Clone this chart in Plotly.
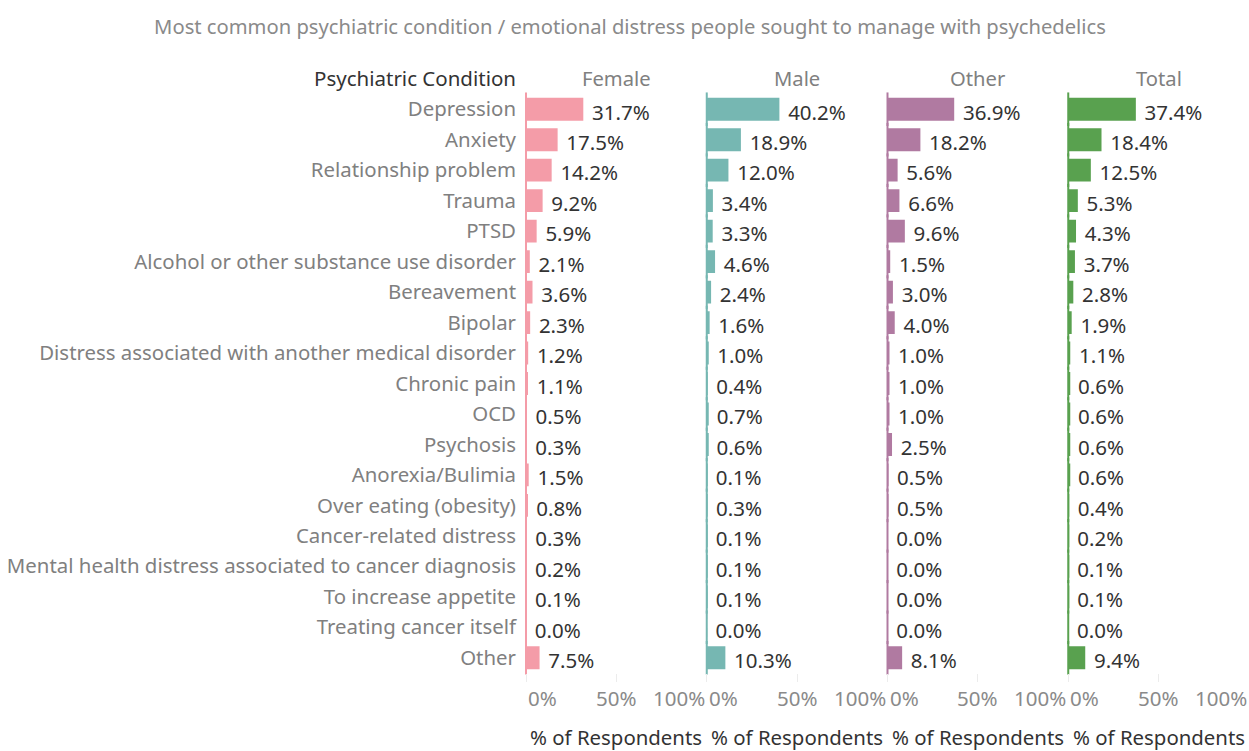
import plotly.graph_objects as go

title = "Most common psychiatric condition / emotional distress people sought to manage with psychedelics"

conditions = [
    "Depression", "Anxiety", "Relationship problem", "Trauma", "PTSD",
    "Alcohol or other substance use disorder", "Bereavement", "Bipolar",
    "Distress associated with another medical disorder", "Chronic pain", "OCD",
    "Psychosis", "Anorexia/Bulimia", "Over eating (obesity)", "Cancer-related distress",
    "Mental health distress associated to cancer diagnosis", "To increase appetite",
    "Treating cancer itself", "Other",
]

groups = ["Female", "Male", "Other", "Total"]

female = [31.7, 17.5, 14.2, 9.2, 5.9, 2.1, 3.6, 2.3, 1.2, 1.1, 0.5, 0.3, 1.5, 0.8, 0.3, 0.2, 0.1, 0.0, 7.5]
male = [40.2, 18.9, 12.0, 3.4, 3.3, 4.6, 2.4, 1.6, 1.0, 0.4, 0.7, 0.6, 0.1, 0.3, 0.1, 0.1, 0.1, 0.0, 10.3]
other = [36.9, 18.2, 5.6, 6.6, 9.6, 1.5, 3.0, 4.0, 1.0, 1.0, 1.0, 2.5, 0.5, 0.5, 0.0, 0.0, 0.0, 0.0, 8.1]
total = [37.4, 18.4, 12.5, 5.3, 4.3, 3.7, 2.8, 1.9, 1.1, 0.6, 0.6, 0.6, 0.6, 0.4, 0.2, 0.1, 0.1, 0.0, 9.4]

tick_values = [0, 50, 100]
tick_labels = ["0%", "50%", "100%"]
axis_title = "% of Respondents"
row_header = "Psychiatric Condition"

series = [female, male, other, total]
colors = ["#F49CA8", "#76B7B2", "#B07AA1", "#59A14F"]

FONT = "Noto Sans"
W, H = 1249, 751
left, right, top, bottom = 526, 0, 94, 78
panel_w = 1.0 / len(groups)
n = len(conditions)
# value labels sit a little below the bar centre line
label_drop = 0.17

fig = go.Figure()

for i, (name, vals, col) in enumerate(zip(groups, series, colors)):
    xa = "x" if i == 0 else f"x{i + 1}"
    fig.add_trace(go.Bar(
        x=vals, y=conditions, orientation="h", xaxis=xa, yaxis="y",
        marker=dict(color=col, line=dict(width=0)), width=0.75,
        hoverinfo="skip", showlegend=False,
    ))
    # thin sliver at the baseline so tiny values remain visible
    fig.add_trace(go.Scatter(
        x=[0] * len(vals), y=conditions, xaxis=xa, yaxis="y", mode="markers",
        marker=dict(symbol="line-ns", size=24, line=dict(width=2, color=col)),
        hoverinfo="skip", showlegend=False, cliponaxis=False,
    ))
    fig.add_trace(go.Scatter(
        x=vals, y=conditions, xaxis=xa, yaxis="y2", mode="text",
        text=[f" \u2009{v:.1f}%" for v in vals], textposition="middle right",
        textfont=dict(family=FONT, size=20.5, color="#333333"),
        hoverinfo="skip", showlegend=False, cliponaxis=False,
    ))

    axis_key = "xaxis" if i == 0 else f"xaxis{i + 1}"
    fig.layout[axis_key] = dict(
        domain=[i * panel_w, (i + 1) * panel_w], range=[0, 100], anchor="y",
        showgrid=False, zeroline=False, showline=False,
        tickvals=tick_values, ticks="outside", ticklen=8, tickcolor="#ececec",
        showticklabels=False, fixedrange=True,
    )

    # tick labels: first left-aligned, middle centered, last right-aligned
    for tv, tl, anchor in zip(tick_values, tick_labels, ["left", "center", "right"]):
        fig.add_annotation(
            x=tv, xref=xa, y=0, yref="paper", yshift=-25, showarrow=False,
            text=tl, xanchor=anchor, yanchor="middle",
            font=dict(family=FONT, size=20.5, color="#8a8a8a"),
        )
    fig.add_annotation(
        x=50, xref=xa, y=0, yref="paper", yshift=-64, showarrow=False,
        text=axis_title, xanchor="center", yanchor="middle",
        font=dict(family=FONT, size=20.4, color="#333333"),
    )
    fig.add_annotation(
        x=50, xref=xa, y=1, yref="paper", yshift=16, showarrow=False,
        text=name, xanchor="center", yanchor="middle",
        font=dict(family=FONT, size=20.2, color="#808080"),
    )
    # dashed baseline
    fig.add_shape(
        type="line", xref=xa, yref="paper", x0=0, x1=0, y0=0, y1=1,
        line=dict(color="#d0d0d0", width=1, dash="dash"), layer="below",
    )

fig.add_annotation(
    x=0, xref="paper", xshift=-8, y=1, yref="paper", yshift=16, showarrow=False,
    text=row_header, xanchor="right", yanchor="middle",
    font=dict(family=FONT, size=20.5, color="#333333"),
)

fig.update_layout(
    width=W, height=H,
    margin=dict(l=left, r=right, t=top, b=bottom, pad=0),
    paper_bgcolor="white", plot_bgcolor="white",
    bargap=0.25,
    title=dict(
        text=title, x=630 / W, xref="container", xanchor="center",
        y=1 - 27 / H, yref="container", yanchor="middle",
        font=dict(family=FONT, size=20.2, color="#8a8a8a"),
    ),
    yaxis=dict(
        autorange=False, range=[n - 0.5, -0.5],
        showgrid=False, zeroline=False, showline=False,
        ticks="", ticklabelstandoff=9, fixedrange=True,
        tickfont=dict(family=FONT, size=20.4, color="#808080"),
    ),
    yaxis2=dict(
        overlaying="y", autorange=False,
        range=[n - 0.5 - label_drop, -0.5 - label_drop],
        categoryorder="array", categoryarray=conditions,
        visible=False, fixedrange=True,
    ),
    font=dict(family=FONT),
)

fig.write_html("out.html")
